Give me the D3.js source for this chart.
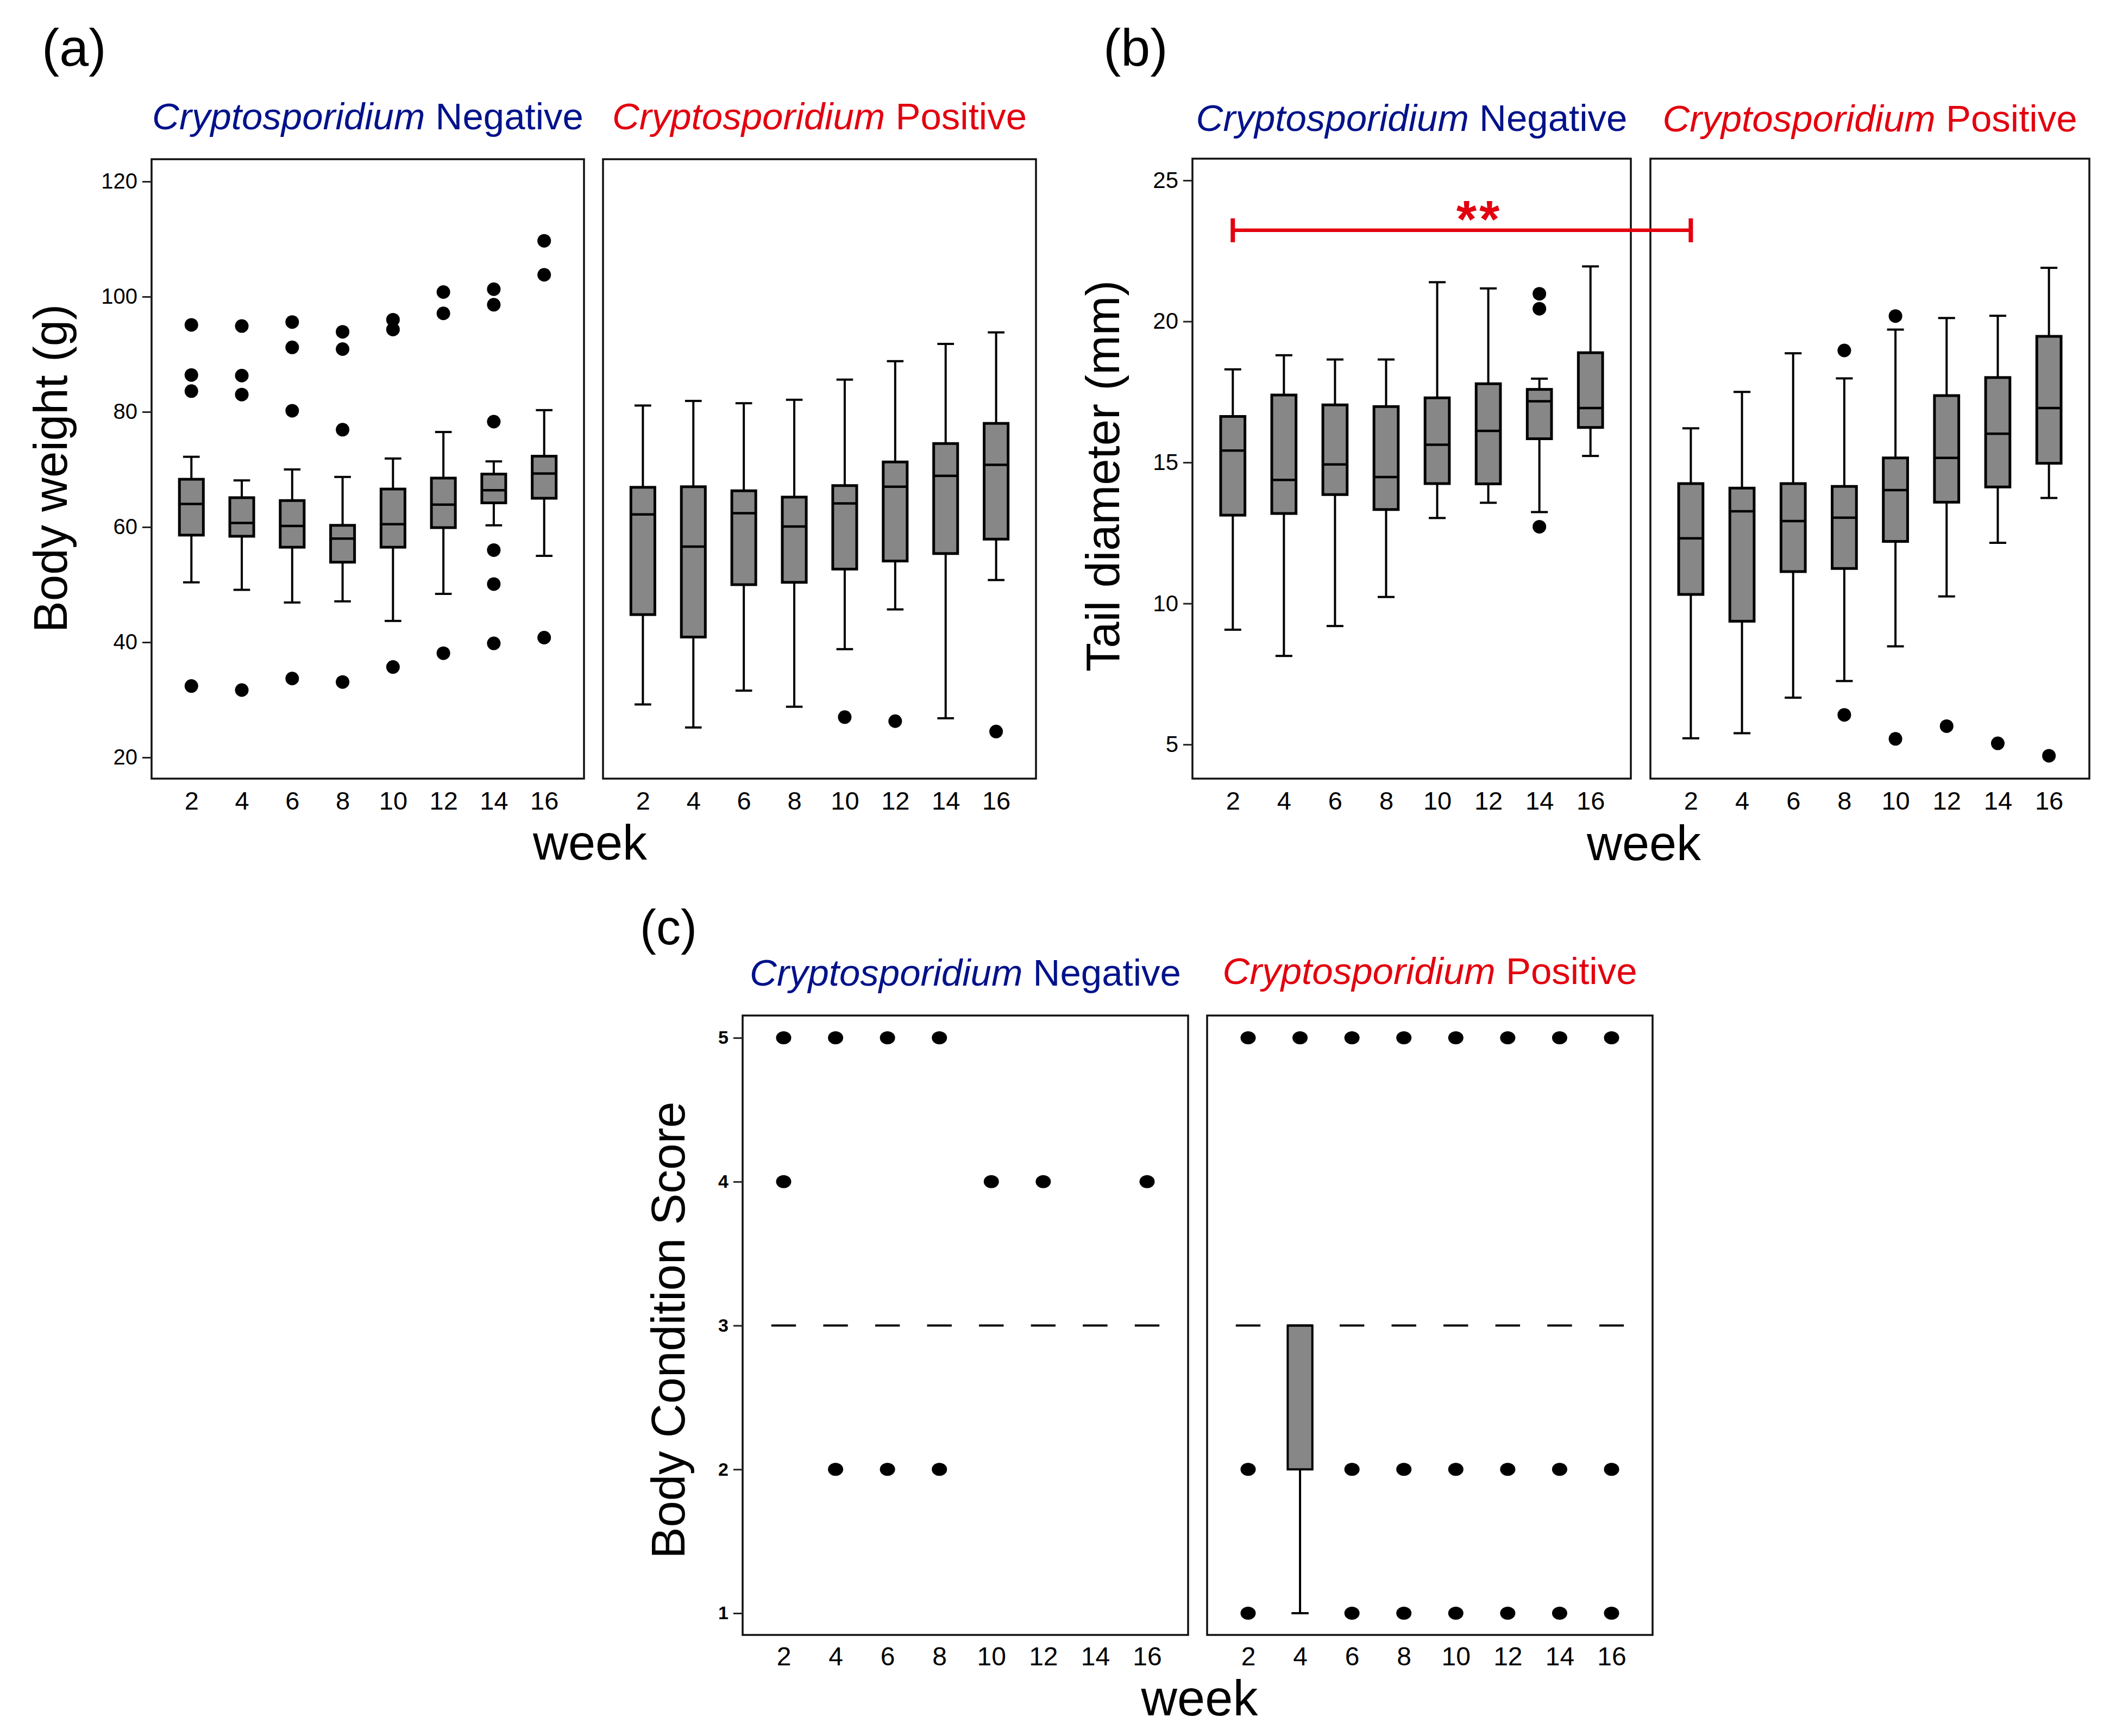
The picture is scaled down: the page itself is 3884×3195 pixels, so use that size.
<!DOCTYPE html>
<html>
<head>
<meta charset="utf-8">
<script src="https://cdn.jsdelivr.net/npm/d3@7"></script>
<style>
  body { margin: 0; background: #fff; }
  svg text { font-family: "Liberation Sans", Arial, Helvetica, sans-serif; }
</style>
</head>
<body>
<div id="chart"></div>
<script>
const weeks = [2, 4, 6, 8, 10, 12, 14, 16]

// box stats per week: [lower whisker, Q1, median, Q3, upper whisker]
const weightNeg = [
  [50.4, 58.6, 64.0, 68.3, 72.2],
  [49.1, 58.4, 60.7, 65.1, 68.1],
  [46.9, 56.5, 60.2, 64.6, 70.0],
  [47.1, 53.9, 58.0, 60.3, 68.7],
  [43.7, 56.5, 60.5, 66.6, 71.9],
  [48.4, 59.9, 63.9, 68.5, 76.5],
  [60.3, 64.2, 66.4, 69.2, 71.4],
  [55.0, 65.0, 69.3, 72.3, 80.3]
]
const weightNegOut = [
  [95.1, 86.4, 83.6, 32.4], [94.9, 86.3, 83.0, 31.7], [95.6, 91.2, 80.2, 33.7],
  [93.9, 90.9, 76.9, 33.1], [96.0, 94.3, 35.7], [100.8, 97.1, 38.1],
  [101.3, 98.6, 78.3, 56.0, 50.1, 39.8], [109.7, 103.8, 40.8]
]
const weightPos = [
  [29.2, 44.8, 62.2, 66.9, 81.1],
  [25.2, 40.9, 56.6, 67.0, 81.9],
  [31.6, 50.0, 62.4, 66.3, 81.5],
  [28.8, 50.4, 60.1, 65.2, 82.1],
  [38.8, 52.7, 64.1, 67.2, 85.6],
  [45.7, 54.1, 67.0, 71.3, 88.8],
  [26.8, 55.4, 68.9, 74.5, 91.8],
  [50.8, 57.9, 70.8, 78.0, 93.8]
]
const weightPosOut = [[], [], [], [], [27.0], [26.3], [], [24.5]]

const tailNeg = [
  [9.07, 13.13, 15.42, 16.63, 18.30],
  [8.14, 13.19, 14.38, 17.39, 18.80],
  [9.20, 13.86, 14.93, 17.04, 18.65],
  [10.23, 13.33, 14.48, 16.98, 18.65],
  [13.03, 14.25, 15.63, 17.29, 21.39],
  [13.57, 14.24, 16.12, 17.79, 21.17],
  [13.24, 15.84, 17.17, 17.59, 17.97],
  [15.23, 16.24, 16.93, 18.89, 21.95]
]
const tailNegOut = [[], [], [], [], [], [], [20.98, 20.45, 12.72], []]
const tailPos = [
  [5.22, 10.32, 12.31, 14.25, 16.21],
  [5.40, 9.37, 13.27, 14.09, 17.50],
  [6.66, 11.13, 12.92, 14.25, 18.87],
  [7.25, 11.24, 13.04, 14.15, 17.98],
  [8.48, 12.20, 14.02, 15.16, 19.71],
  [10.25, 13.59, 15.16, 17.37, 20.12],
  [12.15, 14.13, 16.02, 18.01, 20.20],
  [13.74, 14.97, 16.93, 19.47, 21.90]
]
const tailPosOut = [[], [], [], [18.97, 6.05], [20.19, 5.20], [5.65], [5.04], [4.60]]

const bcsNeg = [
  [3, 3, 3, 3, 3], [3, 3, 3, 3, 3], [3, 3, 3, 3, 3], [3, 3, 3, 3, 3],
  [3, 3, 3, 3, 3], [3, 3, 3, 3, 3], [3, 3, 3, 3, 3], [3, 3, 3, 3, 3]
]
const bcsNegOut = [[5, 4], [5, 2], [5, 2], [5, 2], [4], [4], [], [4]]
const bcsPos = [
  [3, 3, 3, 3, 3], [1, 2, 3, 3, 3], [3, 3, 3, 3, 3], [3, 3, 3, 3, 3],
  [3, 3, 3, 3, 3], [3, 3, 3, 3, 3], [3, 3, 3, 3, 3], [3, 3, 3, 3, 3]
]
const bcsPosOut = [[5, 2, 1], [5], [5, 2, 1], [5, 2, 1], [5, 2, 1], [5, 2, 1], [5, 2, 1], [5, 2, 1]]

const weightTicks = [20, 40, 60, 80, 100, 120]
const tailTicks = [5, 10, 15, 20, 25]
const bcsTicks = [1, 2, 3, 4, 5]

// significance bar in (b): week 2 negative vs week 2 positive
const tailSig = { week: 2, value: 23.23, label: "**" }

const navy = "#00128a"
const red = "#e3000f"
const boxFill = "#878787"

const svg = d3.select("#chart").append("svg")
  .attr("width", 3884)
  .attr("height", 3195)
svg.append("rect").attr("width", 3884).attr("height", 3195).attr("fill", "#fff")

function facetTitle(cx, y, word, color) {
  const t = svg.append("text")
    .attr("x", cx).attr("y", y)
    .attr("text-anchor", "middle")
    .attr("font-size", 69)
    .attr("fill", color)
  t.append("tspan").attr("font-style", "italic").text("Cryptosporidium")
  t.append("tspan").text(" " + word)
}

function drawFacet(f) {
  const x = d3.scalePoint().domain(weeks).range([f.left, f.right]).padding(0.79)
  const step = x.step()
  const bw = step * 0.475, cw = step * 0.33
  const y = f.y
  const g = svg.append("g")

  // frame
  g.append("rect")
    .attr("x", f.left).attr("y", y.range()[1])
    .attr("width", f.right - f.left).attr("height", y.range()[0] - y.range()[1])
    .attr("fill", "none").attr("stroke", "#111").attr("stroke-width", 3.5)

  f.stats.forEach((s, i) => {
    const cx = x(weeks[i])
    const [lo, q1, med, q3, hi] = s
    const bg = g.append("g")
    if (hi > q3) {
      bg.append("line").attr("x1", cx).attr("x2", cx).attr("y1", y(q3)).attr("y2", y(hi))
        .attr("stroke", "#000").attr("stroke-width", 4)
      bg.append("line").attr("x1", cx - cw / 2).attr("x2", cx + cw / 2).attr("y1", y(hi)).attr("y2", y(hi))
        .attr("stroke", "#000").attr("stroke-width", 4)
    }
    if (lo < q1) {
      bg.append("line").attr("x1", cx).attr("x2", cx).attr("y1", y(q1)).attr("y2", y(lo))
        .attr("stroke", "#000").attr("stroke-width", 4)
      bg.append("line").attr("x1", cx - cw / 2).attr("x2", cx + cw / 2).attr("y1", y(lo)).attr("y2", y(lo))
        .attr("stroke", "#000").attr("stroke-width", 4)
    }
    if (q3 > q1) {
      bg.append("rect")
        .attr("x", cx - bw / 2).attr("y", y(q3))
        .attr("width", bw).attr("height", y(q1) - y(q3))
        .attr("fill", boxFill).attr("stroke", "#000").attr("stroke-width", f.boxStroke)
    }
    bg.append("line").attr("x1", cx - bw / 2).attr("x2", cx + bw / 2).attr("y1", y(med)).attr("y2", y(med))
      .attr("stroke", "#000").attr("stroke-width", f.medStroke)

    f.outs[i].forEach(v => {
      bg.append("ellipse").attr("cx", cx).attr("cy", y(v))
        .attr("rx", f.dot[0]).attr("ry", f.dot[1]).attr("fill", "#000")
    })
  })

  // x tick labels
  const xAxis = g.append("g")
    .attr("transform", `translate(0,${y.range()[0]})`)
    .call(d3.axisBottom(x).tickSize(0).tickPadding(f.xPad))
  xAxis.select(".domain").remove()
  xAxis.selectAll("text")
    .attr("font-size", f.xFont)
    .attr("font-weight", f.xWeight)
    .attr("fill", "#000")

  if (f.ticks) {
    const yAxis = g.append("g")
      .attr("transform", `translate(${f.left},0)`)
      .call(d3.axisLeft(y).tickValues(f.ticks).tickFormat(d3.format("d")).tickSize(17).tickPadding(9))
    yAxis.select(".domain").remove()
    yAxis.selectAll("line").attr("stroke", "#222").attr("stroke-width", 3)
    yAxis.selectAll("text")
      .attr("font-size", f.yFont)
      .attr("font-weight", f.yWeight)
      .attr("fill", "#000")
  }

  facetTitle((f.left + f.right) / 2, f.titleY, f.word, f.color)
  return x
}

function panelLetter(x, y, size, txt) {
  svg.append("text").attr("x", x).attr("y", y)
    .attr("font-size", size).attr("fill", "#000").text(txt)
}

function axisTitle(x, y, txt, size, rotate) {
  svg.append("text")
    .attr("transform", rotate ? `translate(${x},${y}) rotate(-90)` : `translate(${x},${y})`)
    .attr("text-anchor", "middle")
    .attr("font-size", size)
    .attr("fill", "#000")
    .text(txt)
}

// ---------- (a) body weight ----------
const yWeight = d3.scaleLinear().domain([16.32, 123.87]).range([1433, 293])
const common = { boxStroke: 5, medStroke: 4.5, dot: [12.5, 12.5], xFont: 47, xPad: 24, xWeight: "normal", yWeight: "normal" }

drawFacet({ ...common, left: 279, right: 1075, y: yWeight, stats: weightNeg, outs: weightNegOut,
  ticks: weightTicks, yFont: 40, titleY: 238, word: "Negative", color: navy })
drawFacet({ ...common, left: 1110, right: 1907, y: yWeight, stats: weightPos, outs: weightPosOut,
  titleY: 238, word: "Positive", color: red })
panelLetter(77, 121, 97, "(a)")
axisTitle(123, 862, "Body weight (g)", 87, true)
axisTitle(1086, 1582, "week", 90, false)

// ---------- (b) tail diameter ----------
const yTail = d3.scaleLinear().domain([3.79, 25.77]).range([1433, 292])
const xTailNeg = drawFacet({ ...common, left: 2195, right: 3002, y: yTail, stats: tailNeg, outs: tailNegOut,
  ticks: tailTicks, yFont: 42, titleY: 241, word: "Negative", color: navy })
const xTailPos = drawFacet({ ...common, left: 3038, right: 3846, y: yTail, stats: tailPos, outs: tailPosOut,
  titleY: 242, word: "Positive", color: red })
panelLetter(2031, 121, 97, "(b)")
axisTitle(2060, 876, "Tail diameter (mm)", 87, true)
axisTitle(3026, 1583, "week", 90, false)

// significance bracket
const sx1 = xTailNeg(tailSig.week), sx2 = xTailPos(tailSig.week), sy = yTail(tailSig.value)
const sig = svg.append("g").attr("stroke", red).attr("stroke-width", 6.5)
sig.append("line").attr("x1", sx1).attr("x2", sx2).attr("y1", sy).attr("y2", sy)
sig.append("line").attr("x1", sx1).attr("x2", sx1).attr("y1", sy - 22).attr("y2", sy + 22).attr("stroke-width", 8)
sig.append("line").attr("x1", sx2).attr("x2", sx2).attr("y1", sy - 22).attr("y2", sy + 22).attr("stroke-width", 8)
svg.append("text")
  .attr("x", 2723).attr("y", sy + 12)
  .attr("text-anchor", "middle")
  .attr("font-size", 96).attr("font-weight", "bold")
  .attr("letter-spacing", 5)
  .attr("fill", red)
  .text(tailSig.label)

// ---------- (c) body condition score ----------
const yBcs = d3.scaleLinear().domain([0.849, 5.155]).range([3009, 1869])
const commonC = { boxStroke: 4, medStroke: 4, dot: [14, 12], xFont: 48, xPad: 22, xWeight: "normal", yWeight: "bold" }
drawFacet({ ...commonC, left: 1367, right: 2187, y: yBcs, stats: bcsNeg, outs: bcsNegOut,
  ticks: bcsTicks, yFont: 34, titleY: 1814, word: "Negative", color: navy })
drawFacet({ ...commonC, left: 2222, right: 3042, y: yBcs, stats: bcsPos, outs: bcsPosOut,
  titleY: 1811, word: "Positive", color: red })
panelLetter(1178, 1738, 90, "(c)")
axisTitle(1260, 2448, "Body Condition Score", 87, true)
axisTitle(2208, 3157, "week", 92, false)
</script>
</body>
</html>
